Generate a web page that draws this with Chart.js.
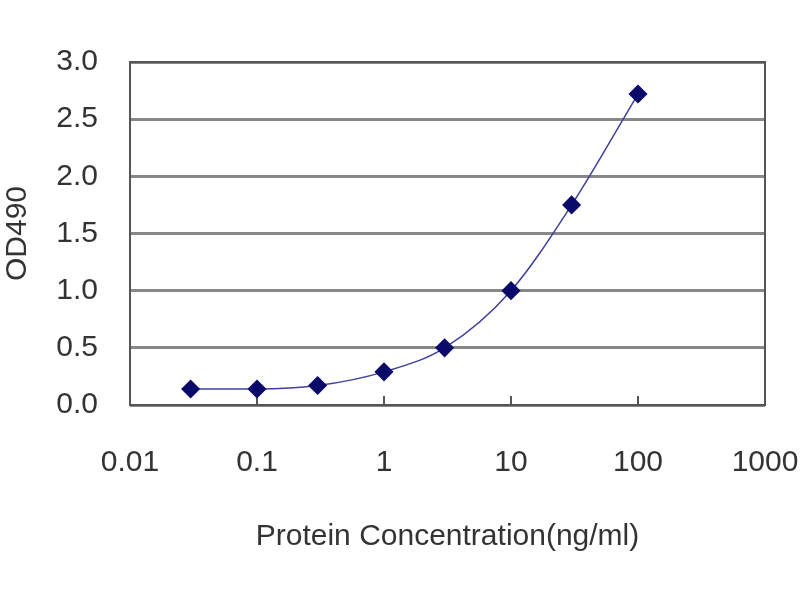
<!DOCTYPE html>
<html>
<head>
<meta charset="utf-8">
<script src="https://cdn.jsdelivr.net/npm/chart.js@4"></script>
<style>
  html, body { margin: 0; padding: 0; background: #fff; }
  #wrap { width: 800px; height: 600px; }
</style>
</head>
<body>
<div id="wrap"><canvas id="elisa"></canvas></div>
<script>
const concentrations = [0.03, 0.1, 0.3, 1, 3, 10, 30, 100];
const odValues = [0.14, 0.14, 0.17, 0.29, 0.50, 1.00, 1.75, 2.72];
const xTickValues = [0.01, 0.1, 1, 10, 100, 1000];
const xTickLabels = ['0.01', '0.1', '1', '10', '100', '1000'];

const FONT = "'Liberation Sans', Arial, sans-serif";
const TEXT = '#333333';

// box around the plot area plus the short inward ticks, like the Excel frame
const frame = {
  id: 'frame',
  beforeDatasetsDraw(chart) {
    const { ctx, chartArea: a, scales } = chart;
    ctx.save();
    ctx.strokeStyle = '#555555';
    ctx.lineWidth = 2;
    ctx.strokeRect(a.left, a.top, a.right - a.left, a.bottom - a.top);
    ctx.beginPath();
    xTickValues.forEach(v => {
      const px = scales.x.getPixelForValue(v);
      ctx.moveTo(px, a.bottom);
      ctx.lineTo(px, a.bottom - 9);
    });
    ctx.stroke();
    ctx.restore();
  }
};

new Chart(document.getElementById('elisa'), {
  type: 'line',
  data: {
    datasets: [{
      data: concentrations.map((c, i) => ({ x: c, y: odValues[i] })),
      borderColor: '#4040a0',
      borderWidth: 1.5,
      tension: 0.4,
      cubicInterpolationMode: 'monotone',
      pointStyle: 'rectRot',
      pointRadius: 8.5,
      pointBackgroundColor: '#0a0a6a',
      pointBorderColor: '#0a0a6a'
    }]
  },
  options: {
    responsive: true,
    maintainAspectRatio: false,
    animation: false,
    layout: { padding: { top: 62, right: 0, left: 0, bottom: 41 } },
    plugins: { legend: { display: false }, tooltip: { enabled: false } },
    scales: {
      x: {
        type: 'logarithmic',
        min: 0.01,
        max: 1000,
        afterBuildTicks(scale) {
          scale.ticks = xTickValues.map(v => ({ value: v }));
        },
        afterFit(scale) {
          scale.height = 154;
          scale.paddingRight = 35;
          scale.paddingLeft = 0;
        },
        ticks: {
          callback: (v) => {
            const i = xTickValues.indexOf(v);
            return i >= 0 ? xTickLabels[i] : '';
          },
          autoSkip: false,
          maxRotation: 0,
          padding: 40,
          color: TEXT,
          font: { family: FONT, size: 30 }
        },
        grid: { drawOnChartArea: false, drawTicks: false },
        border: { display: false },
        title: {
          display: true,
          text: 'Protein Concentration(ng/ml)',
          color: TEXT,
          font: { family: FONT, size: 30 },
          padding: { top: 20 }
        }
      },
      y: {
        min: 0,
        max: 3,
        afterFit(scale) { scale.width = 130; },
        ticks: {
          stepSize: 0.5,
          callback: (v) => v.toFixed(1),
          padding: 32,
          color: TEXT,
          font: { family: FONT, size: 30 }
        },
        grid: { color: '#888888', lineWidth: 3, drawTicks: false },
        border: { display: false },
        title: {
          display: true,
          text: 'OD490',
          color: TEXT,
          font: { family: FONT, size: 30 },
          padding: 0
        }
      }
    }
  },
  plugins: [frame]
});
</script>
</body>
</html>
